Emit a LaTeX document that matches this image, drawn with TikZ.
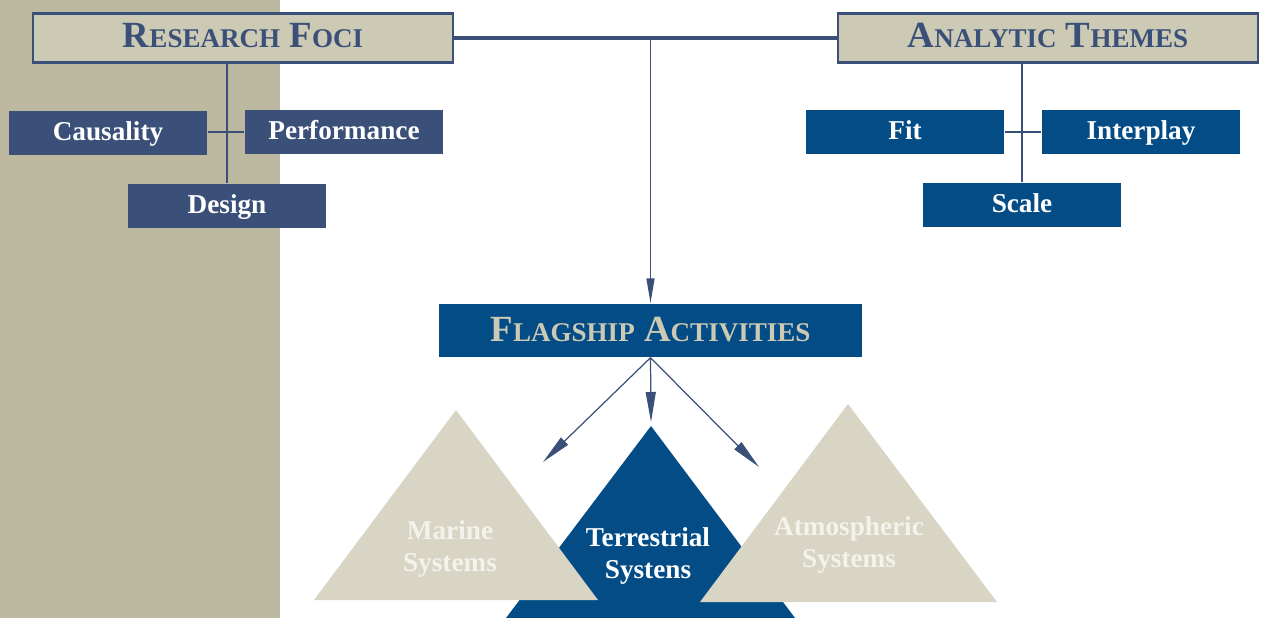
\documentclass[tikz,border=0pt]{standalone}
\usepackage{fontspec}
\setmainfont{Liberation Serif}
\usepackage{xcolor}
\usepackage{tikz}
\usetikzlibrary{arrows.meta}
\definecolor{panelcolor}{HTML}{BDB8A0}
\definecolor{headcolor}{HTML}{CCC9B4}
\definecolor{slatecolor}{HTML}{3A5078}
\definecolor{navycolor}{HTML}{034C86}
\definecolor{sandcolor}{HTML}{D8D5C4}
\definecolor{palecolor}{HTML}{F4F2EA}

%% hand made small caps: big first letter, smaller rest
\newcommand{\bigsc}[2]{{\fontsize{21}{25}\selectfont #1}{\fontsize{15.4}{18}\selectfont #2}}

\tikzset{
  headbox/.style={draw=slatecolor,line width=1.5pt,fill=headcolor,text=slatecolor,
    font=\bfseries\fontsize{21}{25}\selectfont,text height=12pt,text depth=1pt,
    minimum width=8.4cm,minimum height=0.98cm,inner sep=0pt},
  focusbox/.style={fill=slatecolor,text=white,font=\bfseries\fontsize{15.5}{18}\selectfont,
    text height=9pt,text depth=1pt,
    minimum width=3.96cm,minimum height=0.88cm,inner sep=0pt},
  themebox/.style={focusbox,fill=navycolor},
  syslabel/.style={text=palecolor,font=\bfseries\fontsize{15.5}{18}\selectfont,align=center}
}

\begin{document}
\begin{tikzpicture}[thick,x=0.02cm,y=-0.02cm]
\useasboundingbox (0,0) rectangle (1261,618);
%% tan strip on the left
\fill[panelcolor] (0,0) rectangle (280,618);

%% headings and the bar between them
\node[headbox] (Foci) at (243,38) {\bigsc{R}{ESEARCH} \bigsc{F}{OCI}};
\node[headbox] (Themes) at (1048,38) {\bigsc{A}{NALYTIC} \bigsc{T}{HEMES}};
\draw[slatecolor,line width=2.8pt] (Foci.east) -- (Themes.west);

\foreach \n/\x/\y in {Causality/108/133, Performance/344/132, Design/227/206}
    \node[focusbox] (\n) at (\x,\y) {\n};
\foreach \n/\x/\y in {Fit/905/132, Interplay/1141/132, Scale/1022/205}
    \node[themebox] (\n) at (\x,\y) {\n};

\draw[slatecolor,line width=0.7pt] (Design.north) -- (Design.north |- Foci.south);
\draw[slatecolor,line width=0.7pt] (Performance.west -| Causality.east) -- (Performance.west);
\draw[slatecolor,line width=0.7pt] (Scale.north) -- (Scale.north |- Themes.south);
\draw[slatecolor,line width=0.7pt] (Fit.east) -- (Interplay.west);

\node[fill=navycolor,text=headcolor,font=\bfseries\fontsize{21}{25}\selectfont,
      text height=13pt,text depth=1pt,
      minimum width=8.48cm,minimum height=1.06cm,inner sep=0pt]
      (Flagship) at (650.5,330.5) {\bigsc{F}{LAGSHIP} \bigsc{A}{CTIVITIES}};
\draw[slatecolor,line width=0.8pt,-{Triangle[length=0.5cm,width=0.16cm]}]
      (Flagship.north |- Foci.east) -- (Flagship.north);

%% the three systems
\fill[navycolor] (651,426) -- (795,618) -- (506,618) -- cycle;
\fill[sandcolor] (456,410) -- (598,600) -- (314,600) -- cycle;
\fill[sandcolor] (848,404) -- (997,602) -- (700,602) -- cycle;

\coordinate (mtip) at (543,462);
\coordinate (ttip) at (651,422);
\coordinate (atip) at (759,467);
\foreach \t in {mtip,ttip,atip}
    \draw[slatecolor,line width=0.7pt,-{Triangle[length=0.6cm,width=0.2cm]}] (Flagship.south) -- (\t);

\node[syslabel] (Marine) at (450,549) {Marine\\Systems};
\node[syslabel,text=white] (Terrestrial) at (648,556) {Terrestrial\\Systens};
\node[syslabel] (Atmospheric) at (849,545) {Atmospheric\\Systems};
\end{tikzpicture}
\end{document}
